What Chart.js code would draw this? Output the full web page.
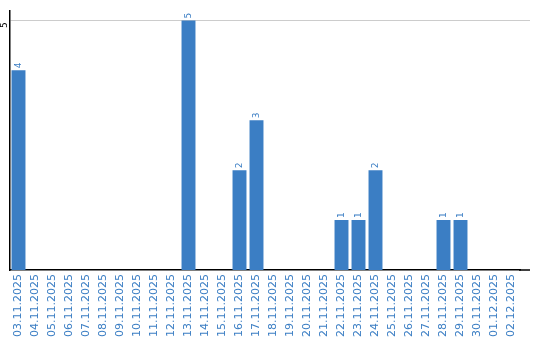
<!DOCTYPE html>
<html>
<head>
<meta charset="utf-8">
<script src="https://cdn.jsdelivr.net/npm/chart.js@4/dist/chart.umd.min.js"></script>
<style>
  html, body { margin: 0; padding: 0; background: #fff; }
  #wrap { width: 540px; height: 340px; }
</style>
</head>
<body>
<div id="wrap"><canvas id="chart"></canvas></div>
<script>
// Daten
const dates = [
  '03.11.2025', '04.11.2025', '05.11.2025', '06.11.2025', '07.11.2025',
  '08.11.2025', '09.11.2025', '10.11.2025', '11.11.2025', '12.11.2025',
  '13.11.2025', '14.11.2025', '15.11.2025', '16.11.2025', '17.11.2025',
  '18.11.2025', '19.11.2025', '20.11.2025', '21.11.2025', '22.11.2025',
  '23.11.2025', '24.11.2025', '25.11.2025', '26.11.2025', '27.11.2025',
  '28.11.2025', '29.11.2025', '30.11.2025', '01.12.2025', '02.12.2025'
];
const counts = [
  4, 0, 0, 0, 0, 0, 0, 0, 0, 0,
  5, 0, 0, 2, 3, 0, 0, 0, 0, 1,
  1, 2, 0, 0, 0, 1, 1, 0, 0, 0
];
const yTicks = [5];
const yMax = 5.2;

const blue = '#3b7ec4';

// Werte über den Balken + Linien etwas nach rechts verlängern
const extras = {
  id: 'extras',
  afterDraw(chart) {
    const ctx = chart.ctx;
    const area = chart.chartArea;
    const y = chart.scales.y;
    ctx.save();
    ctx.lineWidth = 1;
    ctx.strokeStyle = '#cccccc';
    yTicks.forEach(t => {
      const py = Math.round(y.getPixelForValue(t)) + 0.5;
      ctx.beginPath();
      ctx.moveTo(area.right, py);
      ctx.lineTo(530, py);
      ctx.stroke();
    });
    ctx.strokeStyle = '#000';
    ctx.lineWidth = 1.5;
    ctx.beginPath();
    ctx.moveTo(area.right - 1, area.bottom);
    ctx.lineTo(530, area.bottom);
    ctx.stroke();

    const meta = chart.getDatasetMeta(0);
    ctx.fillStyle = blue;
    ctx.font = '9px "DejaVu Sans"';
    ctx.textAlign = 'left';
    ctx.textBaseline = 'middle';
    meta.data.forEach((bar, i) => {
      if (!counts[i]) return;
      ctx.save();
      ctx.translate(bar.x, bar.y - 2);
      ctx.rotate(-Math.PI / 2);
      ctx.fillText(String(counts[i]), 0, 0);
      ctx.restore();
    });
    ctx.restore();
  }
};

new Chart(document.getElementById('chart'), {
  type: 'bar',
  data: {
    labels: dates,
    datasets: [{
      data: counts,
      backgroundColor: blue,
      barPercentage: 0.82,
      categoryPercentage: 1
    }]
  },
  options: {
    responsive: true,
    maintainAspectRatio: false,
    animation: false,
    layout: { padding: { top: 10, right: 20, left: 0, bottom: 0 } },
    plugins: {
      legend: { display: false },
      tooltip: { enabled: false }
    },
    scales: {
      x: {
        grid: { display: false, drawTicks: false },
        border: { color: '#000', width: 1.5 },
        ticks: {
          color: blue,
          font: { family: 'DejaVu Sans', size: 11 },
          minRotation: 90,
          maxRotation: 90,
          autoSkip: false,
          padding: 4
        },
        afterFit(scale) { scale.height = 70; }
      },
      y: {
        min: 0,
        max: yMax,
        afterBuildTicks(scale) {
          scale.ticks = yTicks.map(v => ({ value: v }));
        },
        grid: { color: '#cccccc', drawTicks: false },
        border: { color: '#000', width: 1.5 },
        ticks: {
          color: '#000',
          font: { family: 'DejaVu Sans', size: 9 },
          minRotation: 90,
          maxRotation: 90,
          padding: 5,
          labelOffset: 2
        },
        afterFit(scale) { scale.width = 10; }
      }
    }
  },
  plugins: [extras]
});
</script>
</body>
</html>
